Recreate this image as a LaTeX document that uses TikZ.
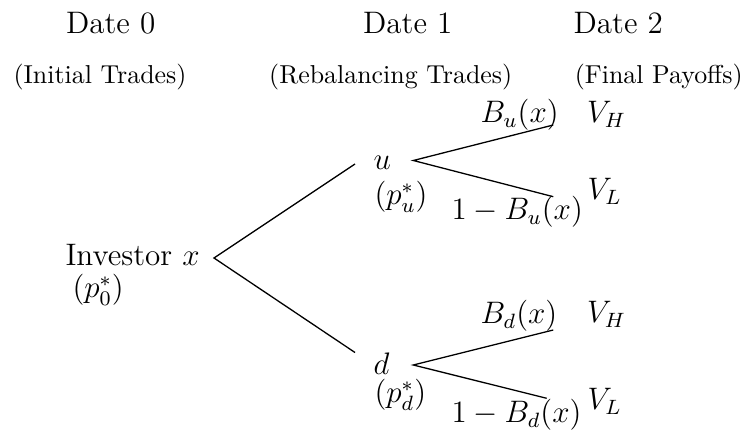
\documentclass[tikz,border=0pt]{standalone}
\begin{document}
\begin{tikzpicture}[x=0.3861pt,y=-0.3861pt,
  font=\fontsize{12}{14.5}\selectfont,
  lbl/.style={inner sep=0pt, anchor=base west},
  ctr/.style={inner sep=0pt, anchor=base},
  smalltxt/.style={font=\fontsize{10}{12}\selectfont},
  branch/.style={line width=0.5pt}]
\useasboundingbox (0,0) rectangle (748,437);
% headers
\node[ctr] (date0) at (110.7,33.3) {Date 0};
\node[ctr] (date1) at (407.8,33.3) {Date 1};
\node[ctr] (date2) at (618.3,33.3) {Date 2};
\node[ctr,smalltxt] (ph0) at (100,83.3) {(Initial Trades)};
\node[ctr,smalltxt] (ph1) at (390.7,83.3) {(Rebalancing Trades)};
\node[ctr,smalltxt] (ph2) at (658.7,83.3) {(Final Payoffs)};
% root
\node[lbl] (inv) at (65,265.7) {Investor $x$};
\node[lbl] (p0) at (72,298) {$(p_0^*)$};
% date-1 nodes
\node[lbl] (u) at (373,170) {$u$};
\node[lbl] (pu) at (374,205) {$(p_u^*)$};
\node[lbl] (d) at (373,375) {$d$};
\node[lbl] (pd) at (374,403) {$(p_d^*)$};
% date-2 labels
\node[lbl] (bu) at (480,123) {$B_u(x)$};
\node[lbl] (vhu) at (586.5,123) {$V_H$};
\node[lbl] (nbu) at (451,220) {$1-B_u(x)$};
\node[lbl] (vlu) at (587,200) {$V_L$};
\node[lbl] (bd) at (480,324) {$B_d(x)$};
\node[lbl] (vhd) at (586.5,323) {$V_H$};
\node[lbl] (nbd) at (451,423) {$1-B_d(x)$};
\node[lbl] (vld) at (587,410) {$V_L$};
% branch points
\coordinate (r) at (214,258);
\coordinate (ru) at (355,164);
\coordinate (rd) at (355,352.5);
\coordinate (uv) at (413.3,160.5);
\coordinate (uh) at (553.3,125);
\coordinate (ul) at (553.3,196.7);
\coordinate (dv) at (413.3,365);
\coordinate (dh) at (553.3,330);
\coordinate (dl) at (546.7,398.3);
\draw[branch] (ru) -- (r) -- (rd);
\draw[branch] (uh) -- (uv) -- (ul);
\draw[branch] (dh) -- (dv) -- (dl);
\end{tikzpicture}
\end{document}
